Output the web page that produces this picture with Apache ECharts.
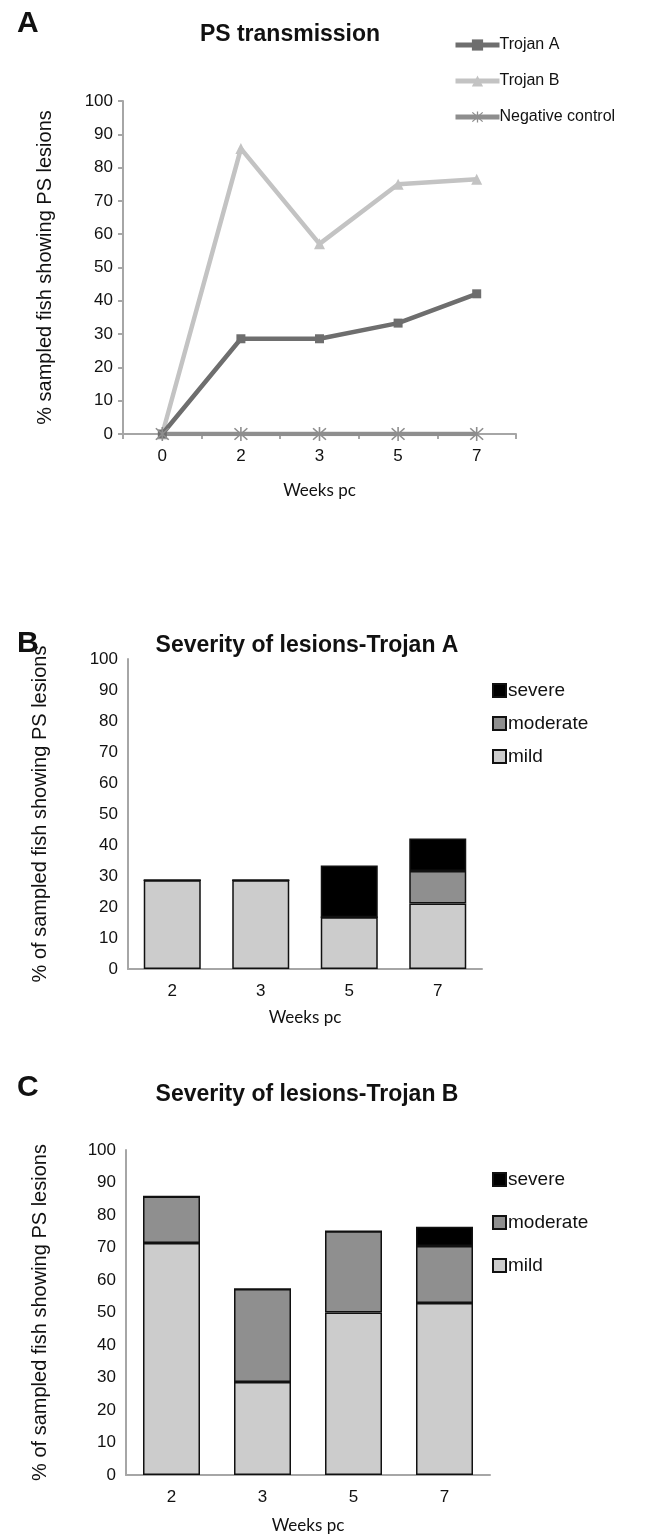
<!DOCTYPE html>
<html><head><meta charset="utf-8">
<script src="https://cdn.jsdelivr.net/npm/echarts@6/dist/echarts.min.js"></script>
<style>html,body{margin:0;padding:0;background:#fff}#c{width:655px;height:1538px}</style>
</head><body><div id="c"></div>
<script>
const weeksA = ['0', '2', '3', '5', '7'];
const trojanA = [0, 28.6, 28.6, 33.3, 42.1];
const trojanB = [0, 85.7, 57.1, 75.0, 76.5];
const negControl = [0, 0, 0, 0, 0];

const weeksBC = ['2', '3', '5', '7'];
const sevA_mild = [28.6, 28.6, 16.7, 21.1];
const sevA_moderate = [0, 0, 0, 10.5];
const sevA_severe = [0, 0, 16.7, 10.5];
const sevB_mild = [71.4, 28.6, 50.0, 52.9];
const sevB_moderate = [14.3, 28.6, 25.0, 17.6];
const sevB_severe = [0, 0, 0, 5.9];

const SANS = '"Liberation Sans", Arial, sans-serif';
const AX = '#a6a6a6';
const starPath = 'path://M9.0,0 L11.0,0 L11.0,20 L9.0,20 Z M1.2,2.6 L2.6,1.2 L18.8,17.4 L17.4,18.8 Z M17.4,1.2 L18.8,2.6 L2.6,18.8 L1.2,17.4 Z';

function yAx(gi, name, gap) {
  return {
    type: 'value', gridIndex: gi, min: 0, max: 100, interval: 10,
    name: name, nameLocation: 'middle', nameGap: gap,
    nameTextStyle: {fontFamily: SANS, fontSize: 20, color: '#111'},
    axisLine: {show: true, lineStyle: {color: AX, width: 2}},
    axisTick: {show: gi === 0, length: 5, lineStyle: {color: AX, width: 2}},
    splitLine: {show: false},
    axisLabel: {fontFamily: SANS, fontSize: 17, color: '#111', margin: 10}
  };
}
function xAx(gi, data, gap) {
  return {
    type: 'category', gridIndex: gi, data: data,
    name: 'Weeks pc', nameLocation: 'middle', nameGap: gap,
    nameTextStyle: {fontFamily: 'Lato, "Open Sans", sans-serif', fontSize: 17, color: '#111'},
    axisLine: {show: true, onZero: false, lineStyle: {color: AX, width: 2}},
    axisTick: {show: gi === 0, alignWithLabel: false, length: 5, lineStyle: {color: AX, width: 2}},
    axisLabel: {fontFamily: SANS, fontSize: 17, color: '#111', margin: 14}
  };
}
function bar(name, data, color, xi) {
  return {
    type: 'bar', name: name, data: data, stack: 's' + xi,
    xAxisIndex: xi, yAxisIndex: xi, barWidth: 57,
    itemStyle: {color: color, borderColor: '#111', borderWidth: 1.5},
    emphasis: {disabled: true}
  };
}
function titleTxt(text, x, y) {
  return {text: text, left: x, top: y, textAlign: 'center',
    textStyle: {fontFamily: SANS, fontWeight: 'bold', fontSize: 23, color: '#111'}};
}
function letter(text, y) {
  return {text: text, left: 12, top: y,
    textStyle: {fontFamily: SANS, fontWeight: 'bold', fontSize: 30, color: '#111'}};
}
const sevLegend = (top, gap) => ({
  orient: 'vertical', left: 487, top: top, itemGap: gap, itemWidth: 13, itemHeight: 13,
  icon: 'rect',
  data: ['severe', 'moderate', 'mild'], selectedMode: false,
  textStyle: {fontFamily: SANS, fontSize: 19, color: '#111', padding: [0, 0, 0, -3]}
});

const option = {
  animation: false,
  backgroundColor: '#fff',
  title: [
    letter('A', 4), titleTxt('PS transmission', 285, 18),
    letter('B', 624), titleTxt('Severity of lesions-Trojan A', 302, 629),
    letter('C', 1068), titleTxt('Severity of lesions-Trojan B', 302, 1078)
  ],
  legend: [
    {orient: 'vertical', left: 448, top: 32, itemGap: 20, itemWidth: 44, itemHeight: 14,
      data: ['Trojan A', 'Trojan B', 'Negative control'], selectedMode: false,
      lineStyle: {width: 5},
      textStyle: {fontFamily: SANS, fontSize: 16, color: '#111', padding: [0, 0, 0, -5]}},
    sevLegend(676, 14),
    sevLegend(1165, 24)
  ],
  grid: [
    {left: 123, top: 101, width: 393, height: 333},
    {left: 128, top: 659, width: 354, height: 310},
    {left: 126, top: 1150, width: 364, height: 325}
  ],
  xAxis: [xAx(0, weeksA, 48), xAx(1, weeksBC, 40), xAx(2, weeksBC, 42)],
  yAxis: [
    yAx(0, '% sampled fish showing PS lesions', 68),
    yAx(1, '% of sampled fish showing PS lesions', 78),
    yAx(2, '% of sampled fish showing PS lesions', 76)
  ],
  series: [
    {type: 'line', name: 'Trojan B', data: trojanB, xAxisIndex: 0, yAxisIndex: 0,
      symbol: 'triangle', symbolSize: 11, color: '#c3c3c3',
      lineStyle: {width: 4.5, color: '#c3c3c3'}, itemStyle: {color: '#c3c3c3'}},
    {type: 'line', name: 'Trojan A', data: trojanA, xAxisIndex: 0, yAxisIndex: 0,
      symbol: 'rect', symbolSize: 9, color: '#6e6e6e',
      lineStyle: {width: 4.5, color: '#6e6e6e'}, itemStyle: {color: '#6e6e6e'}},
    {type: 'line', name: 'Negative control', data: negControl, xAxisIndex: 0, yAxisIndex: 0,
      symbol: starPath, symbolSize: 14, color: '#8e8e8e',
      lineStyle: {width: 4.5, color: '#8e8e8e'}, itemStyle: {color: '#8e8e8e'}},
    bar('mild', sevA_mild, '#cccccc', 1),
    bar('moderate', sevA_moderate, '#8f8f8f', 1),
    bar('severe', sevA_severe, '#000000', 1),
    bar('mild', sevB_mild, '#cccccc', 2),
    bar('moderate', sevB_moderate, '#8f8f8f', 2),
    bar('severe', sevB_severe, '#000000', 2)
  ]
};
const chart = echarts.init(document.getElementById('c'), null, {renderer: 'canvas'});
chart.setOption(option);
</script></body></html>
